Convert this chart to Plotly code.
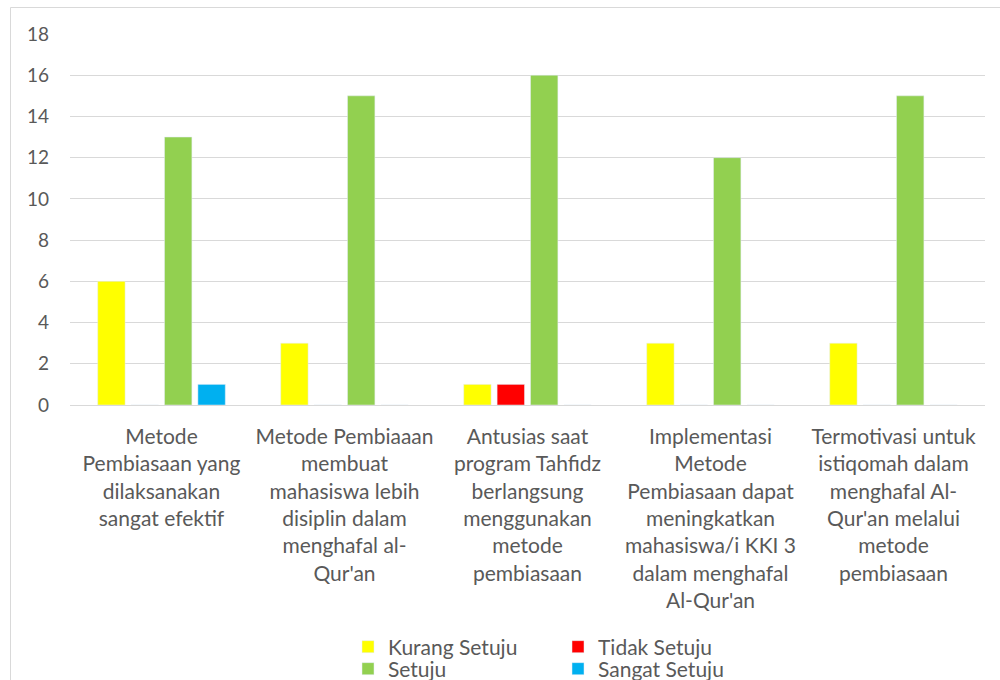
import plotly.graph_objects as go

categories = [
    "Metode Pembiasaan yang dilaksanakan sangat efektif",
    "Metode Pembiaaan membuat mahasiswa lebih disiplin dalam menghafal al-Qur'an",
    "Antusias saat program Tahfidz berlangsung menggunakan metode pembiasaan",
    "Implementasi Metode Pembiasaan dapat meningkatkan mahasiswa/i KKI 3 dalam menghafal Al-Qur'an",
    "Termotivasi untuk istiqomah dalam menghafal Al-Qur'an melalui metode pembiasaan",
]
tick_labels = [
    "Metode<br>Pembiasaan yang<br>dilaksanakan<br>sangat efektif",
    "Metode Pembiaaan<br>membuat<br>mahasiswa lebih<br>disiplin dalam<br>menghafal al-<br>Qur'an",
    "Antusias saat<br>program Tahfidz<br>berlangsung<br>menggunakan<br>metode<br>pembiasaan",
    "Implementasi<br>Metode<br>Pembiasaan dapat<br>meningkatkan<br>mahasiswa/i KKI 3<br>dalam menghafal<br>Al-Qur'an",
    "Termotivasi untuk<br>istiqomah dalam<br>menghafal Al-<br>Qur'an melalui<br>metode<br>pembiasaan",
]
kurang_setuju = [6, 3, 1, 3, 3]
tidak_setuju = [0, 0, 1, 0, 0]
setuju = [13, 15, 16, 12, 15]
sangat_setuju = [1, 0, 0, 0, 0]
y_ticks = [0, 2, 4, 6, 8, 10, 12, 14, 16, 18]

FONT = "Lato, Calibri, Carlito, sans-serif"
GREY = "#595959"

fig = go.Figure()
fig.add_bar(x=categories, y=kurang_setuju, name="Kurang Setuju", marker_color="#FFFF00", legend="legend")
fig.add_bar(x=categories, y=tidak_setuju, name="Tidak Setuju", marker_color="#FF0000", legend="legend2")
fig.add_bar(x=categories, y=setuju, name="Setuju", marker_color="#92D050", legend="legend3")
fig.add_bar(x=categories, y=sangat_setuju, name="Sangat Setuju", marker_color="#00B0F0", legend="legend4")

L, R, T, B = 70, 15, 34, 275
pw = 1000 - L - R
ph = 680 - T - B

def px_x(px):
    return (px - L) / pw

def px_y(py):
    return (680 - B - py) / ph

legend_common = dict(
    orientation="v", xanchor="left", yanchor="middle",
    font=dict(family=FONT, size=21, color=GREY),
    bgcolor="rgba(0,0,0,0)", itemwidth=30, tracegroupgap=0,
)

fig.update_layout(
    width=1000, height=680,
    margin=dict(l=L, r=R, t=T, b=B, autoexpand=False),
    paper_bgcolor="white", plot_bgcolor="white",
    barmode="group", bargap=0.27, bargroupgap=0.18,
    font=dict(family=FONT, size=21, color=GREY),
    showlegend=True,
    legend=dict(x=px_x(348), y=px_y(647), **legend_common),
    legend2=dict(x=px_x(558), y=px_y(647), **legend_common),
    legend3=dict(x=px_x(348), y=px_y(669), **legend_common),
    legend4=dict(x=px_x(558), y=px_y(669), **legend_common),
    xaxis=dict(
        tickmode="array", tickvals=categories, ticktext=tick_labels,
        showgrid=False, showline=False, ticks="", ticklabelstandoff=17,
        tickfont=dict(family=FONT, size=21, color=GREY), tickangle=0,
    ),
    yaxis=dict(
        range=[0, 18], tickmode="array", tickvals=y_ticks,
        showgrid=True, gridcolor="#D9D9D9", gridwidth=1,
        zeroline=True, zerolinecolor="#D9D9D9", zerolinewidth=1,
        showline=False, ticks="", ticklabelstandoff=20,
        tickfont=dict(family=FONT, size=19, color=GREY),
    ),
    shapes=[dict(
        type="rect", xref="paper", yref="paper",
        x0=px_x(10.5), x1=px_x(1100), y0=px_y(800), y1=px_y(7.5),
        line=dict(color="#D9D9D9", width=1), fillcolor="rgba(0,0,0,0)", layer="below",
    )],
)

fig.write_html(
    "out.html",
    config={"displayModeBar": False},
    post_script="document.body.style.margin='0';document.body.style.overflow='hidden';",
)
